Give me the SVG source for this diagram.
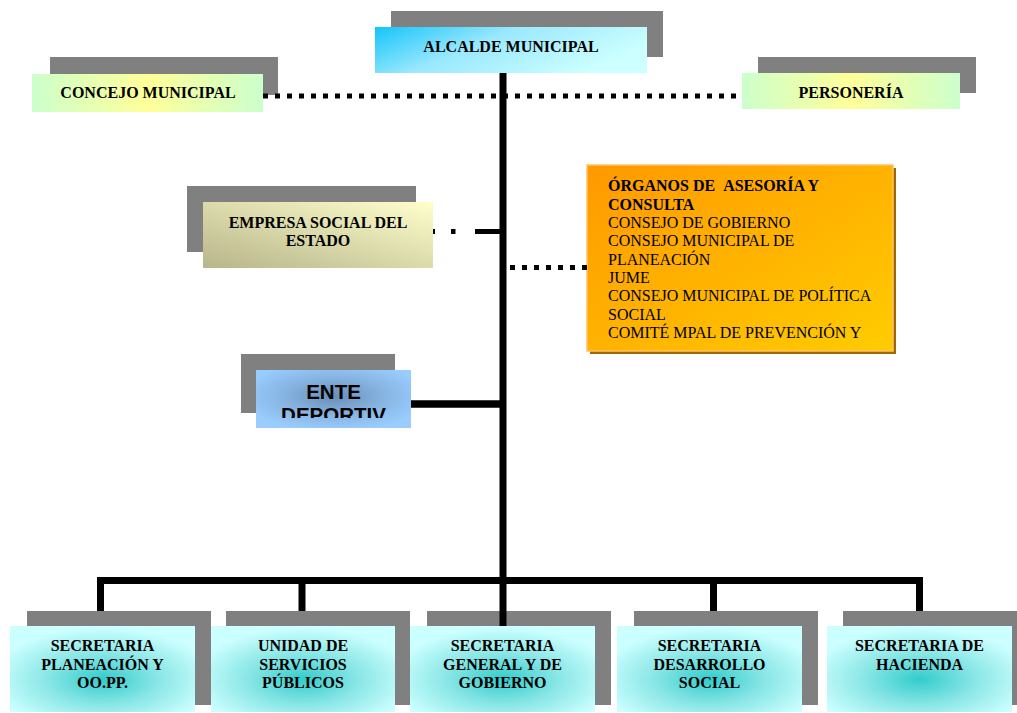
<svg xmlns="http://www.w3.org/2000/svg" width="1017" height="713" viewBox="0 0 1017 713">
<style>
.sh{fill:#808080}
.lb{font-family:"Liberation Serif","Times New Roman",serif;font-size:16px;font-weight:bold;fill:#000;text-anchor:middle}
.or{font-family:"Liberation Serif","Times New Roman",serif;font-size:16px;fill:#000}
.dot{stroke:#000;stroke-width:5;stroke-dasharray:5 7;fill:none}
.ln{stroke:#000;fill:none}
</style>
<defs>
<linearGradient id="gAl" x1="0" y1="0" x2="1" y2="0.4">
<stop offset="0" stop-color="#14c4fb"/>
<stop offset="0.45" stop-color="#99e8fd"/>
<stop offset="1" stop-color="#ccffff"/>
</linearGradient>
<linearGradient id="gGY" x1="0" y1="0" x2="1" y2="0">
<stop offset="0" stop-color="#ccffcc"/>
<stop offset="0.5" stop-color="#ffff99"/>
<stop offset="1" stop-color="#ccffcc"/>
</linearGradient>
<linearGradient id="gEm" x1="0" y1="1" x2="1" y2="0">
<stop offset="0" stop-color="#b7b58a"/>
<stop offset="1" stop-color="#ffffcc"/>
</linearGradient>
<linearGradient id="gOr" x1="0" y1="0" x2="1" y2="1">
<stop offset="0" stop-color="#ff9900"/>
<stop offset="1" stop-color="#ffcc00"/>
</linearGradient>
<radialGradient id="gEn" cx="0.5" cy="0.45" r="0.6">
<stop offset="0" stop-color="#6a8db6"/>
<stop offset="0.55" stop-color="#87b5e3"/>
<stop offset="1" stop-color="#99ccff"/>
</radialGradient>
<radialGradient id="gSe" cx="0.5" cy="0.62" r="0.6">
<stop offset="0" stop-color="#33cccc"/>
<stop offset="0.5" stop-color="#8ae6e6"/>
<stop offset="1" stop-color="#ccffff"/>
</radialGradient>
<clipPath id="cEn"><rect x="256" y="370" width="155" height="48"/></clipPath>
<clipPath id="cOr"><rect x="587" y="165" width="306" height="178"/></clipPath>
</defs>

<g id="alcalde">
<rect class="sh" x="391" y="11" width="272" height="46"/>
<rect x="375" y="27" width="272" height="46" fill="url(#gAl)"/>
<text class="lb" x="511" y="52">ALCALDE MUNICIPAL</text>
</g>

<g id="concejo">
<rect class="sh" x="50" y="57" width="228" height="38"/>
<rect x="32" y="74" width="231" height="38" fill="url(#gGY)"/>
<text class="lb" x="148" y="98">CONCEJO MUNICIPAL</text>
</g>

<g id="personeria">
<rect class="sh" x="758" y="57" width="218" height="36"/>
<rect x="742" y="73" width="218" height="36" fill="url(#gGY)"/>
<text class="lb" x="851" y="98">PERSONERÍA</text>
</g>

<g id="empresa">
<rect class="sh" x="187" y="186" width="229" height="66"/>
<rect x="203" y="202" width="230" height="66" fill="url(#gEm)"/>
<text class="lb" x="318" y="228">EMPRESA SOCIAL DEL</text>
<text class="lb" x="318" y="245.5">ESTADO</text>
</g>

<g id="organos">
<rect x="590" y="168" width="306" height="186" fill="#a06800"/>
<rect x="587" y="165" width="306" height="186" fill="url(#gOr)" stroke="#ffc266" stroke-width="1.5"/>
<g clip-path="url(#cOr)">
<text class="or" x="608" y="191" font-weight="bold">ÓRGANOS DE &#160;ASESORÍA Y</text>
<text class="or" x="608" y="210" font-weight="bold">CONSULTA</text>
<text class="or" x="608" y="228">CONSEJO DE GOBIERNO</text>
<text class="or" x="608" y="246">CONSEJO MUNICIPAL DE</text>
<text class="or" x="608" y="264.5">PLANEACIÓN</text>
<text class="or" x="608" y="283">JUME</text>
<text class="or" x="608" y="301">CONSEJO MUNICIPAL DE POLÍTICA</text>
<text class="or" x="608" y="319.5">SOCIAL</text>
<text class="or" x="608" y="338">COMITÉ MPAL DE PREVENCIÓN Y</text>
</g>
</g>

<g id="ente">
<rect class="sh" x="241" y="354" width="154" height="59"/>
<rect x="256" y="370" width="155" height="58" fill="url(#gEn)"/>
<g clip-path="url(#cEn)" font-family="'Liberation Sans',Arial,sans-serif" font-size="20.5" font-weight="bold" text-anchor="middle" fill="#000">
<text x="333.5" y="399">ENTE</text>
<text x="333.5" y="422">DEPORTIV</text>
</g>
</g>

<g id="sec-planeacion">
<rect class="sh" x="27" y="611" width="184" height="94"/>
<rect x="10" y="626" width="185" height="86" fill="url(#gSe)"/>
<text class="lb" x="102.5" y="651">SECRETARIA</text>
<text class="lb" x="102.5" y="669.5">PLANEACIÓN Y</text>
<text class="lb" x="102.5" y="688">OO.PP.</text>
</g>

<g id="unidad-servicios">
<rect class="sh" x="226" y="611" width="184" height="94"/>
<rect x="211" y="626" width="184" height="86" fill="url(#gSe)"/>
<text class="lb" x="303" y="651">UNIDAD DE</text>
<text class="lb" x="303" y="669.5">SERVICIOS</text>
<text class="lb" x="303" y="688">PÚBLICOS</text>
</g>

<g id="sec-general">
<rect class="sh" x="427" y="611" width="184" height="94"/>
<rect x="410" y="626" width="185" height="86" fill="url(#gSe)"/>
<text class="lb" x="502.5" y="651">SECRETARIA</text>
<text class="lb" x="502.5" y="669.5">GENERAL Y DE</text>
<text class="lb" x="502.5" y="688">GOBIERNO</text>
</g>

<g id="sec-desarrollo">
<rect class="sh" x="634" y="611" width="184" height="94"/>
<rect x="617" y="626" width="185" height="86" fill="url(#gSe)"/>
<text class="lb" x="709.5" y="651">SECRETARIA</text>
<text class="lb" x="709.5" y="669.5">DESARROLLO</text>
<text class="lb" x="709.5" y="688">SOCIAL</text>
</g>

<g id="sec-hacienda">
<rect class="sh" x="843" y="611" width="174" height="94"/>
<rect x="827" y="626" width="185" height="86" fill="url(#gSe)"/>
<text class="lb" x="919.5" y="651">SECRETARIA DE</text>
<text class="lb" x="919.5" y="669.5">HACIENDA</text>
</g>

<g id="connectors">
<line class="ln" x1="503" y1="73" x2="503" y2="626" stroke-width="7"/>
<path class="ln" d="M100.5,611 V580.5 H919.5 V611" stroke-width="7"/>
<line class="ln" x1="302" y1="580" x2="302" y2="611" stroke-width="7"/>
<line class="ln" x1="713.5" y1="580" x2="713.5" y2="611" stroke-width="7"/>
<line class="ln" x1="411" y1="404" x2="503" y2="404" stroke-width="7.5"/>
<line class="dot" x1="263" y1="96" x2="742" y2="96"/>
<line class="dot" x1="510" y1="267.5" x2="587" y2="267.5"/>
<rect x="433" y="229" width="2" height="5"/>
<rect x="451" y="229" width="4.5" height="5"/>
<rect x="475" y="229" width="28" height="5"/>
</g>
</svg>
